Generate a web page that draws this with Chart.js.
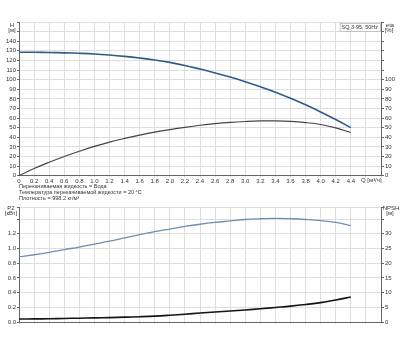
<!DOCTYPE html>
<html>
<head>
<meta charset="utf-8">
<script src="https://cdn.jsdelivr.net/npm/chart.js@4.4.1/dist/chart.umd.min.js"></script>
<style>
html,body{margin:0;padding:0;background:#fff;width:400px;height:350px;overflow:hidden;}
#w1{position:absolute;left:0;top:0;width:400px;height:202px;}
#w2{position:absolute;left:0;top:202px;width:400px;height:148px;}
</style>
</head>
<body>
<div id="w1"><canvas id="c1" width="400" height="202"></canvas></div>
<div id="w2"><canvas id="c2" width="400" height="148"></canvas></div>
<script>
// ---- data ----
const qValues     = [0, 0.2, 0.4, 0.6, 0.8, 1.0, 1.2, 1.4, 1.6, 1.8, 2.0, 2.2, 2.4, 2.6, 2.8, 3.0, 3.2, 3.4, 3.6, 3.8, 4.0, 4.2, 4.4];
const headValues  = [128.5, 128.5, 128.3, 127.9, 127.4, 126.7, 125.6, 124.2, 122.5, 120.5, 118.0, 114.8, 111.0, 107.0, 102.7, 97.9, 92.6, 86.9, 80.6, 73.8, 66.4, 58.5, 50.0];
const effValues   = [0, 7.5, 14, 20, 25.5, 30.5, 35, 38.8, 42.2, 45.3, 48, 50.4, 52.5, 54.2, 55.5, 56.4, 57, 57, 56.5, 55.3, 53.3, 49.8, 45];
const powerValues = [0.885, 0.915, 0.948, 0.985, 1.02, 1.06, 1.10, 1.145, 1.19, 1.23, 1.265, 1.30, 1.33, 1.355, 1.375, 1.395, 1.405, 1.41, 1.405, 1.395, 1.38, 1.355, 1.31];
const npshValues  = [1.0, 1.05, 1.1, 1.2, 1.3, 1.4, 1.5, 1.65, 1.8, 2.0, 2.3, 2.65, 3.05, 3.4, 3.75, 4.1, 4.5, 4.95, 5.4, 5.95, 6.6, 7.5, 8.5];
const headTicksMax = 140;
const effTicksMax  = 100;
const qTicksMax    = 4.4;
const qAxisLabel   = 'Q [м³/ч]';
const pumpTitle    = 'SQ 3-95, 50Hz';
const infoLines    = ['Перекачиваемая жидкость = Вода', 'Температура перекачиваемой жидкости = 20 °C', 'Плотность = 998.2 кг/м³'];

const pts = (ys) => qValues.map((q, i) => ({x: q, y: ys[i]}));
const FONT = '"Liberation Sans", Arial, sans-serif';
const tickFont = {family: FONT, size: 6};
const GRID = '#dedede';
const AX = '#666';
const TXT = '#333';
Chart.defaults.animation = false;
Chart.defaults.font.family = FONT;

function fmtQ(v) {
  v = Math.round(v * 10) / 10;
  if (v > qTicksMax + 0.05) return '';
  return v === 0 ? '0' : v.toFixed(1);
}

function textPlugin(id, draw) {
  return {id, afterDraw(chart) { const ctx = chart.ctx; ctx.save(); draw(ctx, chart); ctx.restore(); }};
}

// ---- top chart: H and eta ----
new Chart(document.getElementById('c1'), {
  type: 'line',
  data: {datasets: [
    {data: pts(headValues), yAxisID: 'yH', borderColor: '#2d5b8a', borderWidth: 1.6, pointRadius: 0, tension: 0.4},
    {data: pts(effValues), yAxisID: 'yE', borderColor: '#454545', borderWidth: 1.2, pointRadius: 0, tension: 0.4}
  ]},
  options: {
    responsive: false, devicePixelRatio: 1,
    layout: {padding: {top: 22, left: 0, right: 0, bottom: 0}},
    plugins: {legend: {display: false}, tooltip: {enabled: false}},
    scales: {
      x: {type: 'linear', min: 0, max: 4.8,
          afterFit: s => { s.height = 202 - 175.7; },
          afterBuildTicks: s => { s.ticks = []; for (let i = 0; i <= 24; i++) s.ticks.push({value: Math.round(i * 2) / 10}); },
          ticks: {font: tickFont, color: TXT, padding: 0, maxRotation: 0, autoSkip: false, callback: v => fmtQ(v)},
          grid: {color: GRID, tickLength: 2, tickColor: GRID},
          border: {color: AX}},
      yH: {type: 'linear', position: 'left', min: 0, max: 160,
          afterFit: s => { s.width = 19; },
          ticks: {stepSize: 10, autoSkip: false, font: tickFont, color: TXT, padding: 1, callback: v => v <= headTicksMax ? String(v) : ''},
          grid: {color: GRID, tickLength: 2, tickColor: AX},
          border: {color: AX}},
      yE: {type: 'linear', position: 'right', min: 0, max: 160,
          afterFit: s => { s.width = 19; },
          ticks: {stepSize: 10, autoSkip: false, font: tickFont, color: TXT, padding: 1, callback: v => v <= effTicksMax ? String(v) : ''},
          grid: {drawOnChartArea: false, tickLength: 3, tickColor: AX},
          border: {color: AX}}
    }
  },
  plugins: [textPlugin('t1', (ctx, chart) => {
    const a = chart.chartArea;
    ctx.fillStyle = TXT;
    ctx.font = '6px ' + FONT;
    ctx.textAlign = 'center'; ctx.textBaseline = 'middle';
    ctx.fillText('H', 12, 25);
    ctx.fillText('[м]', 12, 30);
    ctx.fillText('eta', 390, 25);
    ctx.fillText('[%]', 389, 30);
    // Q axis name
    ctx.textAlign = 'left';
    ctx.fillText(qAxisLabel, 361, 180.5);
    // title box
    ctx.font = '5.5px ' + FONT;
    const w = ctx.measureText(pumpTitle).width + 4;
    const bx = a.right - w - 1, by = a.top + 1;
    ctx.fillStyle = '#fff';
    ctx.fillRect(bx, by, w, 8);
    ctx.strokeStyle = '#bbb'; ctx.lineWidth = 0.8;
    ctx.strokeRect(bx + 0.5, by + 0.5, w, 8);
    ctx.fillStyle = TXT; ctx.textAlign = 'left';
    ctx.fillText(pumpTitle, bx + 2, by + 4.5);
    // info lines
    ctx.font = '5.5px ' + FONT;
    ctx.textAlign = 'left';
    infoLines.forEach((t, i) => ctx.fillText(t, 19, 186.5 + i * 6));
  })]
});

// ---- bottom chart: P2 and NPSH ----
new Chart(document.getElementById('c2'), {
  type: 'line',
  data: {datasets: [
    {data: pts(powerValues), yAxisID: 'yP', borderColor: '#6f8fb0', borderWidth: 1.3, pointRadius: 0, tension: 0.4},
    {data: pts(npshValues), yAxisID: 'yN', borderColor: '#141414', borderWidth: 1.6, pointRadius: 0, tension: 0.4}
  ]},
  options: {
    responsive: false, devicePixelRatio: 1,
    layout: {padding: {top: 5, left: 0, right: 0, bottom: 0}},
    plugins: {legend: {display: false}, tooltip: {enabled: false}},
    scales: {
      x: {type: 'linear', min: 0, max: 4.8,
          afterFit: s => { s.height = 148 - 120; },
          afterBuildTicks: s => { s.ticks = []; for (let i = 0; i <= 24; i++) s.ticks.push({value: Math.round(i * 2) / 10}); },
          ticks: {display: false},
          grid: {color: GRID, tickLength: 2, tickColor: GRID},
          border: {color: AX}},
      yP: {type: 'linear', position: 'left', min: 0, max: 1.565,
          afterFit: s => { s.width = 19; },
          ticks: {stepSize: 0.2, autoSkip: false, font: tickFont, color: TXT, padding: 1,
                  callback: v => (v <= 1.25 ? (Math.round(v * 10) / 10).toFixed(1) : '')},
          grid: {color: GRID, tickLength: 2, tickColor: AX},
          border: {color: AX}},
      yN: {type: 'linear', position: 'right', min: 0, max: 39.1,
          afterFit: s => { s.width = 19; },
          ticks: {stepSize: 5, autoSkip: false, font: tickFont, color: TXT, padding: 1, callback: v => v <= 30 ? String(v) : ''},
          grid: {drawOnChartArea: false, tickLength: 3, tickColor: AX},
          border: {color: AX}}
    }
  },
  plugins: [textPlugin('t2', (ctx) => {
    ctx.fillStyle = TXT;
    ctx.font = '6px ' + FONT;
    ctx.textAlign = 'center'; ctx.textBaseline = 'middle';
    ctx.fillText('P2', 11, 6);
    ctx.fillText('[кВт]', 11, 11);
    ctx.fillText('NPSH', 391, 6);
    ctx.fillText('[м]', 390, 11);
  })]
});
</script>
</body>
</html>
